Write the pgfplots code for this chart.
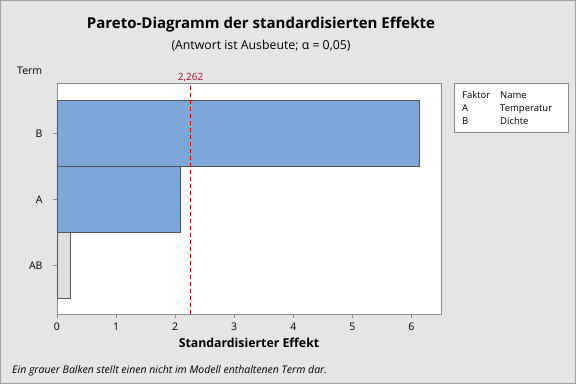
\documentclass[border=0pt]{standalone}
\usepackage{pgfplots}
\pgfplotsset{compat=1.18}
\usepackage{fontspec}
\setmainfont{Open Sans}
\definecolor{bgc}{HTML}{E5E5E5}
\definecolor{barblue}{HTML}{7DA7D9}
\definecolor{bargrey}{HTML}{DDDDDD}
\definecolor{edgec}{HTML}{555555}
\definecolor{axc}{HTML}{8C8C8C}
\definecolor{refred}{HTML}{D40000}
\definecolor{labred}{HTML}{A0102A}
\begin{document}
\begin{tikzpicture}[x=1pt,y=1pt]
\fill[bgc] (0,0) rectangle (576,384);
\draw[axc!80,line width=1pt] (0.5,0.5) rectangle (575.5,383.5);
\node[font=\fontsize{15}{18}\selectfont\bfseries] at (261,359) {Pareto-Diagramm der standardisierten Effekte};
\node[font=\fontsize{12.3}{14}\selectfont] at (261,338) {(Antwort ist Ausbeute; α = 0,05)};
\node[font=\fontsize{10.5}{12}\selectfont,anchor=base west,inner sep=0] at (17,309) {Term};
\node[font=\fontsize{12.3}{14}\selectfont\bfseries] at (249,41) {Standardisierter Effekt};
\node[font=\fontsize{10.5}{12}\selectfont\itshape,anchor=base west,inner sep=0] at (12,11) {Ein grauer Balken stellt einen nicht im Modell enthaltenen Term dar.};
% legend box
\draw[axc,fill=white] (454,301) rectangle (568,252);
\begin{scope}[font=\fontsize{9.5}{11}\selectfont]
\node[anchor=base west,inner sep=0] at (462,286) {Faktor};
\node[anchor=base west,inner sep=0] at (500,286) {Name};
\node[anchor=base west,inner sep=0] at (462,273) {A};
\node[anchor=base west,inner sep=0] at (500,273) {Temperatur};
\node[anchor=base west,inner sep=0] at (462,260) {B};
\node[anchor=base west,inner sep=0] at (500,260) {Dichte};
\end{scope}
\begin{axis}[
  at={(57pt,70pt)}, anchor=south west,
  scale only axis, width=384pt, height=231pt,
  xmin=0, xmax=6.5, ymin=0.27, ymax=3.76,
  axis background/.style={fill=white},
  axis line style={axc},
  xtick={0,1,2,3,4,5,6},
  ytick={1,2,3}, yticklabels={AB,A,B},
  tick style={axc, line width=0.6pt},
  tick align=outside, major tick length=4pt,
  xtick pos=bottom, ytick pos=left,
  tick label style={font=\fontsize{10.5}{12}\selectfont},
  /pgf/number format/assume math mode=true,
  yticklabel style={xshift=-7pt},
  xticklabel style={yshift=-1pt},
  xbar, bar width=1, bar shift=0pt, clip=false,
]
\addplot[fill=barblue, draw=edgec, line width=0.8pt] coordinates {(2.09,2) (6.13,3)};
\addplot[fill=bargrey, draw=edgec, line width=0.8pt] coordinates {(0.225,1)};
\draw[refred, line width=0.9pt, dash pattern=on 4pt off 3pt] (axis cs:2.262,0.27) -- (axis cs:2.262,3.76);
\node[labred, font=\fontsize{10}{12}\selectfont, anchor=south, inner sep=1.5pt] at (axis cs:2.262,3.76) {2,262};
\end{axis}
\end{tikzpicture}
\end{document}
